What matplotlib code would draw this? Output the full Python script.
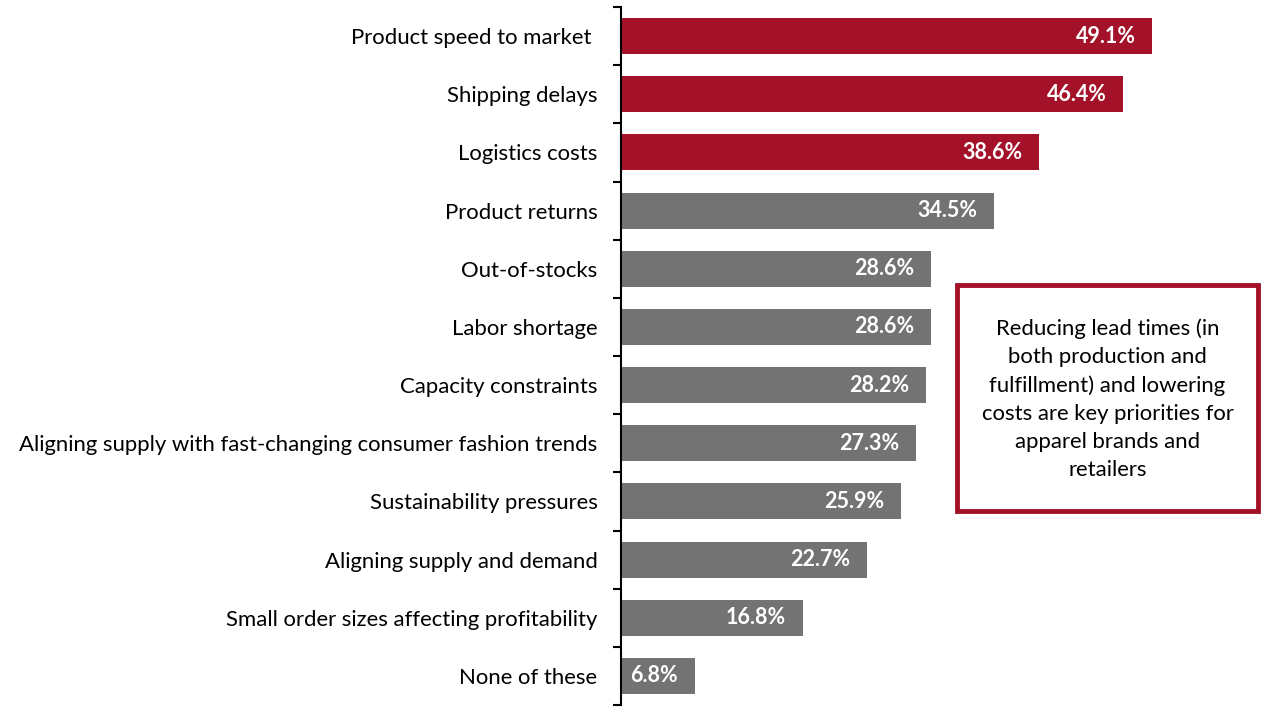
import matplotlib
matplotlib.use("Agg")
import matplotlib.pyplot as plt
from matplotlib.patches import Rectangle

categories = [
    "Product speed to market ",
    "Shipping delays",
    "Logistics costs",
    "Product returns",
    "Out-of-stocks",
    "Labor shortage",
    "Capacity constraints",
    "Aligning supply with fast-changing consumer fashion trends",
    "Sustainability pressures",
    "Aligning supply and demand",
    "Small order sizes affecting profitability",
    "None of these",
]
values = [49.1, 46.4, 38.6, 34.5, 28.6, 28.6, 28.2, 27.3, 25.9, 22.7, 16.8, 6.8]
highlighted = [True, True, True] + [False] * 9
note_text = ("Reducing lead times (in\nboth production and\nfulfillment) and lowering\n"
             "costs are key priorities for\napparel brands and\nretailers")

RED = "#A31228"
GRAY = "#737373"

plt.rcParams['font.family'] = ['Lato', 'DejaVu Sans']

fig = plt.figure(figsize=(12.65, 7.24), dpi=100)
ax = fig.add_axes([621 / 1265, 19 / 724, 1 - 621 / 1265, 698 / 724])

n = len(categories)
ypos = list(range(n))
colors = [RED if h else GRAY for h in highlighted]
ax.barh(ypos, values, height=0.62, color=colors, zorder=2)

for y, v in zip(ypos, values):
    ax.text(v - 1.55, y, f"{v:.1f}%", ha="right", va="center", color="white",
            fontsize=15.5, fontweight="bold", zorder=3)

ax.set_ylim(n - 0.5, -0.5)
ax.set_xlim(0, 59.5)
ax.set_yticks(ypos)
ax.set_yticklabels(categories, fontsize=15.9)
ax.tick_params(axis="y", length=0, pad=17)
ax.set_yticks([i - 0.5 for i in range(n + 1)], minor=True)
ax.tick_params(axis="y", which="minor", length=6, width=1.5, color="black")
ax.set_xticks([])
for s in ["top", "right", "bottom"]:
    ax.spines[s].set_visible(False)
ax.spines["left"].set_linewidth(1.5)

# annotation box
bx0, by0, bx1, by1 = 957 / 1265, 1 - 511 / 724, 1258 / 1265, 1 - 285 / 724
fig.patches.append(Rectangle((bx0, by0), bx1 - bx0, by1 - by0, transform=fig.transFigure,
                             facecolor="white", edgecolor=RED, linewidth=3.5, zorder=5))
fig.text((bx0 + bx1) / 2, (by0 + by1) / 2 - 1 / 724, note_text, ha="center", va="center",
         fontsize=15.9, linespacing=1.5, color="black", zorder=6)

fig.savefig("out.png", dpi=100)
